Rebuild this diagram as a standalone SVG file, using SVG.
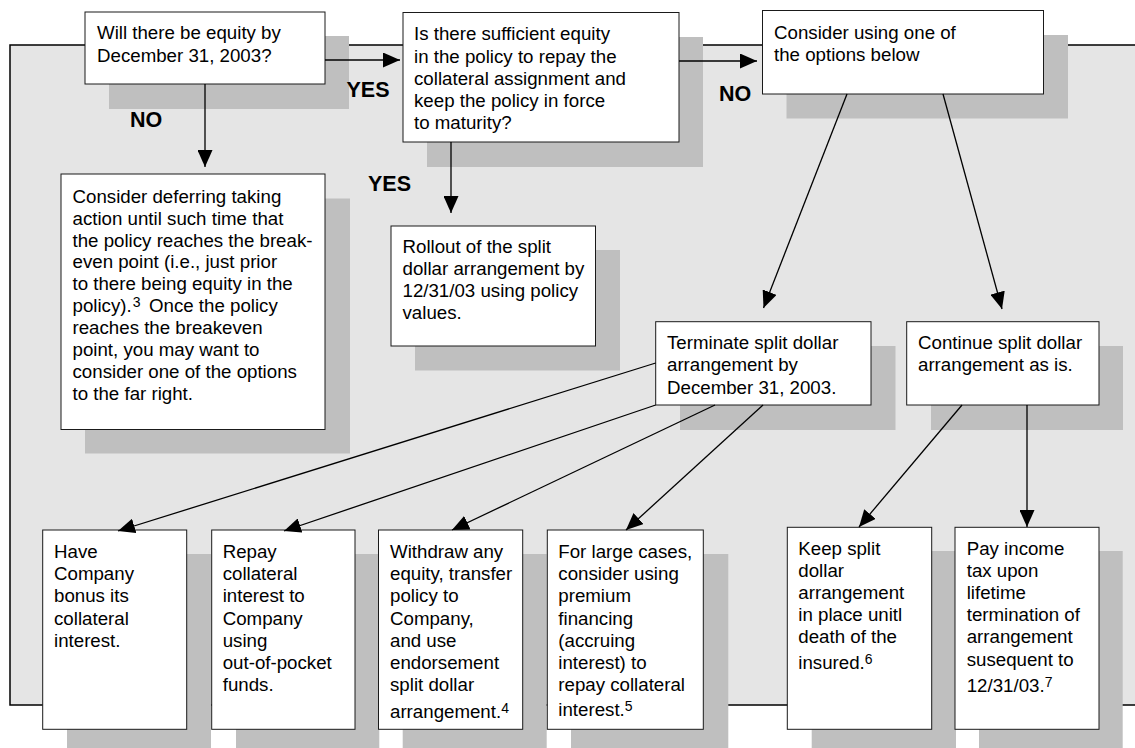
<svg xmlns="http://www.w3.org/2000/svg" width="1135" height="748" viewBox="0 0 1135 748">
<defs>
<style>
.panel{fill:#e5e5e5;stroke:#000;stroke-width:1.5}
.sh{fill:#bfbfbf}
.box{fill:#fff;stroke:#1a1a1a;stroke-width:1}
.t{font-family:"Liberation Sans",Arial,sans-serif;font-size:18.7px;fill:#000}
.lbl{font-family:"Liberation Sans",Arial,sans-serif;font-size:21.5px;font-weight:bold;fill:#000}
.t .sup{font-size:14px}
.c{fill:none;stroke:#000;stroke-width:1.3;marker-end:url(#ah)}
</style>
<marker id="ah" markerUnits="userSpaceOnUse" markerWidth="17" markerHeight="15" refX="17" refY="7.5" orient="auto" viewBox="0 0 17 15">
<path d="M0,0 L17,7.5 L0,15 z" fill="#000"/>
</marker>
</defs>
<rect class="panel" x="10" y="45" width="1140" height="660"/>

<g id="n1">
<rect class="sh" x="109" y="36" width="240" height="73"/>
<rect class="box" x="85" y="12" width="240" height="72"/>
<text class="t" x="97" y="39">Will there be equity by</text>
<text class="t" x="97" y="62">December 31, 2003?</text>
</g>

<g id="n2">
<rect class="sh" x="427" y="37" width="276" height="130"/>
<rect class="box" x="403" y="12.5" width="276" height="129.5"/>
<text class="t" x="414" y="40">Is there sufficient equity</text>
<text class="t" x="414" y="62.5">in the policy to repay the</text>
<text class="t" x="414" y="84.5">collateral assignment and</text>
<text class="t" x="414" y="106.7">keep the policy in force</text>
<text class="t" x="414" y="129">to maturity?</text>
</g>

<g id="n3">
<rect class="sh" x="786.5" y="35" width="281.5" height="83.5"/>
<rect class="box" x="762.5" y="10.5" width="281" height="83.5"/>
<text class="t" x="774" y="38.5">Consider using one of</text>
<text class="t" x="774" y="61">the options below</text>
</g>

<g id="n4">
<rect class="sh" x="85" y="198.5" width="265" height="255"/>
<rect class="box" x="61" y="174" width="264" height="255.5"/>
<text class="t" x="72.5" y="202.7">Consider deferring taking</text>
<text class="t" x="72.5" y="224.6">action until such time that</text>
<text class="t" x="72.5" y="246.5">the policy reaches the break-</text>
<text class="t" x="72.5" y="268.4">even point (i.e., just prior</text>
<text class="t" x="72.5" y="290.3">to there being equity in the</text>
<text class="t" x="72.5" y="312.2">policy).<tspan class="sup" dx="1" dy="-5">3</tspan><tspan x="149" dy="5">Once the policy</tspan></text>
<text class="t" x="72.5" y="334.1">reaches the breakeven</text>
<text class="t" x="72.5" y="356">point, you may want to</text>
<text class="t" x="72.5" y="377.9">consider one of the options</text>
<text class="t" x="72.5" y="399.8">to the far right.</text>
</g>

<g id="n5">
<rect class="sh" x="415" y="250" width="205" height="120.5"/>
<rect class="box" x="391" y="226" width="204.5" height="120"/>
<text class="t" x="402.5" y="253.3">Rollout of the split</text>
<text class="t" x="402.5" y="275.3">dollar arrangement by</text>
<text class="t" x="402.5" y="297.3">12/31/03 using policy</text>
<text class="t" x="402.5" y="319.3">values.</text>
</g>

<g id="n6">
<rect class="sh" x="680" y="346" width="215.5" height="84"/>
<rect class="box" x="655.7" y="321.7" width="215.3" height="83.3"/>
<text class="t" x="667" y="349">Terminate split dollar</text>
<text class="t" x="667" y="371.3">arrangement by</text>
<text class="t" x="667" y="393.8">December 31, 2003.</text>
</g>

<g id="n7">
<rect class="sh" x="931" y="346" width="192" height="84"/>
<rect class="box" x="906.7" y="321.7" width="192.3" height="83.3"/>
<text class="t" x="918" y="349">Continue split dollar</text>
<text class="t" x="918" y="371.3">arrangement as is.</text>
</g>

<g id="n8">
<rect class="sh" x="67" y="554" width="144" height="200"/>
<rect class="box" x="42.7" y="530" width="144" height="199.3"/>
<text class="t" x="54" y="558.3">Have</text>
<text class="t" x="54" y="580.3">Company</text>
<text class="t" x="54" y="602.3">bonus its</text>
<text class="t" x="54" y="624.5">collateral</text>
<text class="t" x="54" y="646.5">interest.</text>
</g>

<g id="n9">
<rect class="sh" x="236" y="554" width="143.3" height="200"/>
<rect class="box" x="211.7" y="530" width="143.3" height="199.3"/>
<text class="t" x="222.7" y="558.3">Repay</text>
<text class="t" x="222.7" y="580.3">collateral</text>
<text class="t" x="222.7" y="602.3">interest to</text>
<text class="t" x="222.7" y="624.5">Company</text>
<text class="t" x="222.7" y="646.5">using</text>
<text class="t" x="222.7" y="668.7">out-of-pocket</text>
<text class="t" x="222.7" y="690.8">funds.</text>
</g>

<g id="n10">
<rect class="sh" x="402.7" y="554" width="144" height="200"/>
<rect class="box" x="378.5" y="530" width="144.2" height="199.3"/>
<text class="t" x="390" y="558.3">Withdraw any</text>
<text class="t" x="390" y="580.3">equity, transfer</text>
<text class="t" x="390" y="602.3">policy to</text>
<text class="t" x="390" y="624.5">Company,</text>
<text class="t" x="390" y="646.5">and use</text>
<text class="t" x="390" y="668.7">endorsement</text>
<text class="t" x="390" y="690.8">split dollar</text>
<text class="t" x="390" y="718.3">arrangement.<tspan class="sup" dy="-5">4</tspan></text>
</g>

<g id="n11">
<rect class="sh" x="571" y="554" width="157.3" height="200"/>
<rect class="box" x="547.3" y="530" width="156" height="199.3"/>
<text class="t" x="558.3" y="558.3">For large cases,</text>
<text class="t" x="558.3" y="580.3">consider using</text>
<text class="t" x="558.3" y="602.3">premium</text>
<text class="t" x="558.3" y="624.5">financing</text>
<text class="t" x="558.3" y="646.5">(accruing</text>
<text class="t" x="558.3" y="668.7">interest) to</text>
<text class="t" x="558.3" y="690.8">repay collateral</text>
<text class="t" x="558.3" y="716">interest.<tspan class="sup" dy="-5">5</tspan></text>
</g>

<g id="n12">
<rect class="sh" x="811.7" y="551" width="144.3" height="205"/>
<rect class="box" x="787.3" y="527.3" width="144.4" height="202"/>
<text class="t" x="798.3" y="555">Keep split</text>
<text class="t" x="798.3" y="577">dollar</text>
<text class="t" x="798.3" y="599">arrangement</text>
<text class="t" x="798.3" y="621">in place unitl</text>
<text class="t" x="798.3" y="643.3">death of the</text>
<text class="t" x="798.3" y="669.3">insured.<tspan class="sup" dy="-5">6</tspan></text>
</g>

<g id="n13">
<rect class="sh" x="979" y="551" width="143.7" height="205"/>
<rect class="box" x="955" y="527.3" width="144" height="202"/>
<text class="t" x="966.7" y="555">Pay income</text>
<text class="t" x="966.7" y="577">tax upon</text>
<text class="t" x="966.7" y="599">lifetime</text>
<text class="t" x="966.7" y="621">termination of</text>
<text class="t" x="966.7" y="643.3">arrangement</text>
<text class="t" x="966.7" y="665.5">susequent to</text>
<text class="t" x="966.7" y="691.7">12/31/03.<tspan class="sup" dy="-5">7</tspan></text>
</g>

<g id="labels">
<text class="lbl" x="346.5" y="97">YES</text>
<text class="lbl" x="130" y="127">NO</text>
<text class="lbl" x="368" y="191">YES</text>
<text class="lbl" x="719" y="100.5">NO</text>
</g>

<g id="connectors">
<path class="c" d="M325,60 H400"/>
<path class="c" d="M205,84 V167"/>
<path class="c" d="M679,61 H757"/>
<path class="c" d="M451,142 V213"/>
<path class="c" d="M847,94 L763.5,308"/>
<path class="c" d="M943,94 L1002,309"/>
<path class="c" d="M655.7,363 L118,531"/>
<path class="c" d="M655.7,405 L284,531"/>
<path class="c" d="M715,405 L452,530"/>
<path class="c" d="M763,405 L626,530"/>
<path class="c" d="M962,405 L859,527"/>
<path class="c" d="M1027,405 V527"/>
</g>
</svg>
